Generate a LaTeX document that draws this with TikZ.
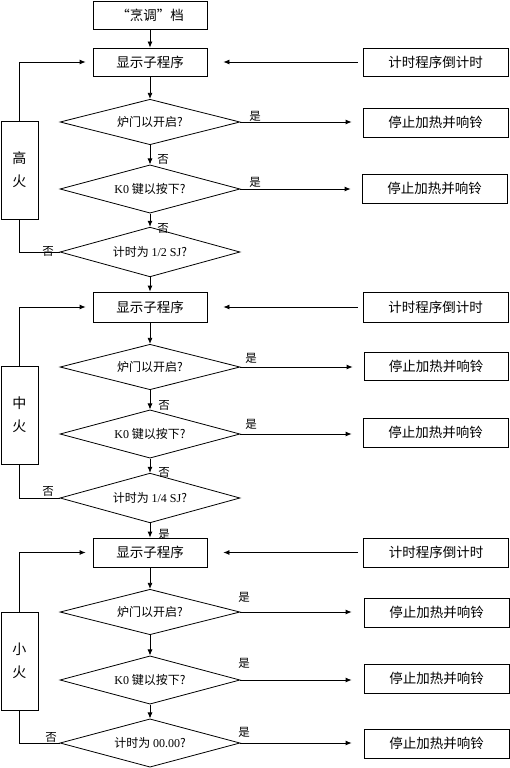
\documentclass[tikz,border=0pt]{standalone}
\usepackage{fontspec}
\setmainfont{Noto Sans CJK SC}
\newfontfamily\lat{Liberation Serif}
\usetikzlibrary{shapes.geometric,arrows.meta}
\begin{document}
\begin{tikzpicture}[x=1pt,y=-1pt,line width=0.8pt,
  box/.style={draw,rectangle,minimum width=114pt,minimum height=28pt,inner sep=0pt,font=\fontsize{13.5}{15}\selectfont},
  rbox/.style={draw,rectangle,minimum width=145pt,minimum height=28pt,inner sep=0pt,font=\fontsize{13.5}{15}\selectfont},
  dia/.style={draw,diamond,shape aspect=1.915,minimum width=180pt,inner sep=0pt,font=\fontsize{12}{14}\selectfont},
  side/.style={draw,rectangle,minimum width=37pt,minimum height=98pt,inner sep=0pt,align=center,font=\fontsize{14}{23}\selectfont},
  lbl/.style={inner sep=0pt,font=\fontsize{11.5}{12}\selectfont},
  arr/.style={-{Latex[length=6pt,width=5pt]}}]
\useasboundingbox (0,0) rectangle (509,768);

% top
\node[box] (top) at (150,15) {“烹调”档};

% ---------- section A
\node[box] (disp1) at (150,62) {显示子程序};
\node[dia] (d11) at (150,122) {炉门以开启?};
\node[dia] (d12) at (150,189) {{\lat K0} 键以按下?};
\node[dia] (d13) at (150,252) {计时为 {\lat 1/2 SJ}?};
\node[side] (side1) at (19.5,170) {高\\火};
\node[rbox] (timer1) at (435.5,62) {计时程序倒计时};
\node[rbox,minimum height=29pt] (stop11) at (435.5,122.5) {停止加热并响铃};
\node[rbox,minimum height=29pt] (stop12) at (434.5,188.5) {停止加热并响铃};

% ---------- section B
\node[box,minimum height=30pt] (disp2) at (150,307) {显示子程序};
\node[dia] (d21) at (150,367) {炉门以开启?};
\node[dia] (d22) at (150,434) {{\lat K0} 键以按下?};
\node[dia] (d23) at (150,498) {计时为 {\lat 1/4 SJ}?};
\node[side] (side2) at (19.5,415) {中\\火};
\node[rbox,minimum height=30pt] (timer2) at (435.5,307) {计时程序倒计时};
\node[rbox,minimum width=144pt] (stop21) at (436,366) {停止加热并响铃};
\node[rbox,minimum height=29pt] (stop22) at (435.5,432.5) {停止加热并响铃};

% ---------- section C
\node[box,minimum height=29pt] (disp3) at (150,552.5) {显示子程序};
\node[dia] (d31) at (150,612) {炉门以开启?};
\node[dia] (d32) at (150,680) {{\lat K0} 键以按下?};
\node[dia] (d33) at (150,743) {计时为 {\lat 00.00}?};
\node[side] (side3) at (19.5,661) {小\\火};
\node[rbox,minimum height=29pt] (timer3) at (436,552.5) {计时程序倒计时};
\node[rbox,minimum height=29pt] (stop31) at (436.5,612.5) {停止加热并响铃};
\node[rbox,minimum height=29pt] (stop32) at (436.5,678.5) {停止加热并响铃};
\node[rbox,minimum height=29pt] (stop33) at (436.5,743.5) {停止加热并响铃};

% ---------- connectors A
\draw[arr] (top) -- (disp1);
\draw[arr] (disp1) -- (d11);
\draw[arr] (d11) -- (d12);
\draw[arr] (d12) -- (d13);
\draw[arr] (d13) -- (disp2);
\draw[arr,shorten >=11pt] (d11.east) -- (d11.east -| stop11.west);
\draw[arr,shorten >=11pt] (d12.east) -- (d12.east -| stop12.west);
\draw[arr,shorten <=5pt,shorten >=16pt] (timer1.west) -- (disp1.east);
\draw (d13.west) -| (side1.south);
\draw[arr,shorten >=7pt] (side1.north) |- (disp1.west);
\node[lbl] (y11) at (255,116) {是};
\node[lbl] (y12) at (255,182) {是};
\node[lbl] (n11) at (163,159) {否};
\node[lbl] (n12) at (163,228) {否};
\node[lbl] (n13) at (48,251) {否};

% ---------- connectors B
\draw[arr] (disp2) -- (d21);
\draw[arr] (d21) -- (d22);
\draw[arr] (d22) -- (d23);
\draw[arr] (d23) -- (disp3);
\draw[arr,shorten >=11pt] (d21.east) -- (d21.east -| stop21.west);
\draw[arr,shorten >=11pt] (d22.east) -- (d22.east -| stop22.west);
\draw[arr,shorten <=5pt,shorten >=16pt] (timer2.west) -- (disp2.east);
\draw (d23.west) -| (side2.south);
\draw[arr,shorten >=7pt] (side2.north) |- (disp2.west);
\node[lbl] (y21) at (251,358) {是};
\node[lbl] (y22) at (251,424) {是};
\node[lbl] (n21) at (164,405) {否};
\node[lbl] (n22) at (164,472) {否};
\node[lbl] (n23) at (48,491) {否};
\node[lbl] (y23) at (164,534) {是};

% ---------- connectors C
\draw[arr] (disp3) -- (d31);
\draw[arr] (d31) -- (d32);
\draw[arr] (d32) -- (d33);
\draw[arr,shorten >=12pt] (d31.east) -- (d31.east -| stop31.west);
\draw[arr,shorten >=12pt] (d32.east) -- (d32.east -| stop32.west);
\draw[arr,shorten >=12pt] (d33.east) -- (d33.east -| stop33.west);
\draw[arr,shorten <=5pt,shorten >=16pt] (timer3.west) -- (disp3.east);
\draw (d33.west) -| (side3.south);
\draw[arr,shorten >=7pt] (side3.north) |- (disp3.west);
\node[lbl] (y31) at (244,597) {是};
\node[lbl] (y32) at (244,663) {是};
\node[lbl] (y33) at (244,732) {是};
\node[lbl] (n33) at (51,737) {否};
\end{tikzpicture}
\end{document}
